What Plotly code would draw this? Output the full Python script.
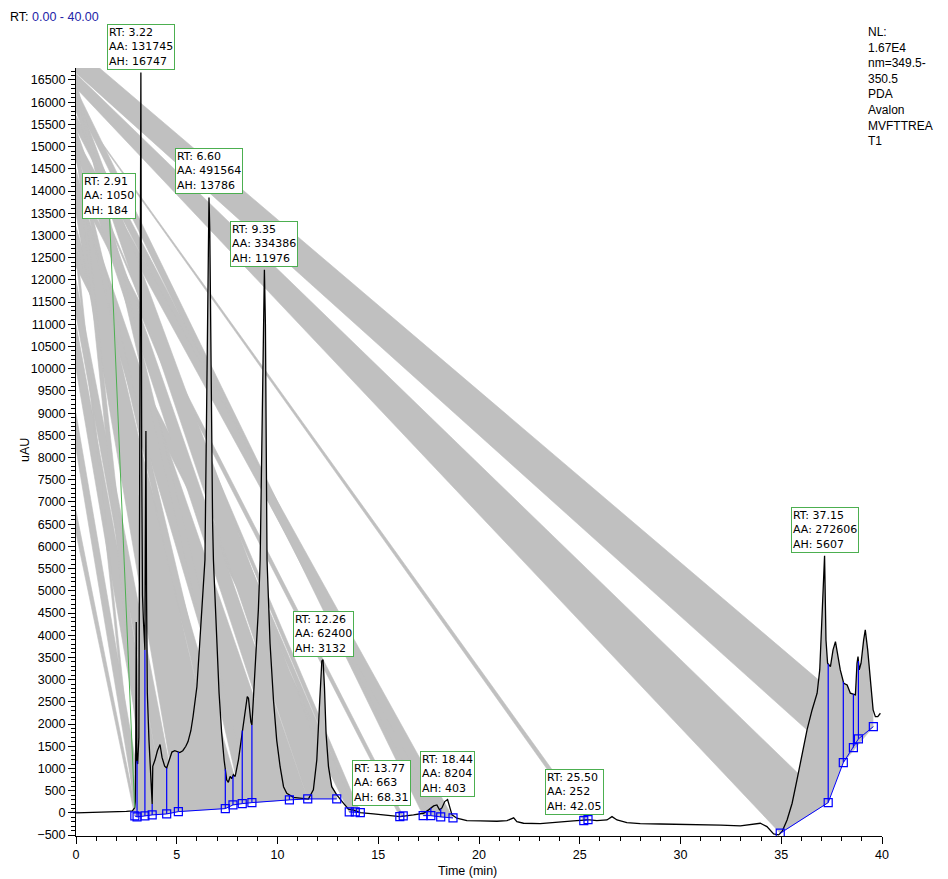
import numpy as np
import plotly.graph_objects as go

# ---------------- data ----------------
rt = [0.0, 0.5, 1.0, 1.5, 2.0, 2.5, 2.8, 2.88, 2.91, 2.94, 2.96, 2.99, 3.02, 3.06, 3.12, 3.17, 3.22, 3.26,
      3.30, 3.35, 3.40, 3.42, 3.44, 3.47, 3.50, 3.54, 3.62, 3.70, 3.75, 3.78, 3.81, 3.92, 4.04, 4.17, 4.27, 4.40,
      4.50, 4.62, 4.76, 4.90, 5.05, 5.15, 5.30, 5.45, 5.56, 5.70, 5.81, 6.00, 6.14, 6.30, 6.40, 6.46, 6.52,
      6.56, 6.60, 6.64, 6.68, 6.73, 6.78, 6.82, 6.98, 7.10, 7.23, 7.35, 7.48, 7.56, 7.65, 7.73, 7.81, 7.90,
      8.06, 8.23, 8.39, 8.50, 8.56, 8.62, 8.68, 8.73, 8.80, 8.94, 9.05, 9.14, 9.22, 9.28, 9.35, 9.40, 9.44,
      9.48, 9.63, 9.80, 9.96, 10.13, 10.30, 10.46, 10.79, 11.20, 11.53, 11.78, 11.95, 12.08, 12.20, 12.26,
      12.33, 12.41, 12.53, 12.69, 12.94, 13.27, 13.52, 13.77, 14.10, 14.76, 15.43, 16.09, 16.75, 17.25,
      17.50, 17.75, 17.91, 18.04, 18.16, 18.30, 18.44, 18.54, 18.66, 18.90, 19.40, 20.06, 20.89, 21.39,
      21.58, 21.72, 21.88, 22.21, 23.04, 23.87, 24.69, 25.36, 25.50, 25.85, 26.35, 26.60, 26.85, 27.34,
      28.0, 29.0, 30.0, 31.0, 32.0, 32.97, 33.96, 34.29, 34.62, 34.87, 35.04, 35.29, 35.54, 35.78, 36.03,
      36.28, 36.53, 36.78, 36.91, 36.98, 37.04, 37.15, 37.22, 37.30, 37.44, 37.57, 37.69, 37.80, 37.93,
      38.10, 38.27, 38.43, 38.68, 38.76, 38.81, 38.87, 38.96, 39.09, 39.17, 39.29, 39.42, 39.56, 39.67,
      39.79, 39.92]
signal = [0, 5, 10, 12, 22, 35, 45, 80, 116, 260, 900, 4300, 1200, 1100, 1700, 9000, 16668, 8000,
          4900, 4300, 3750, 3670, 6000, 8600, 5000, 2700, 1650, 1000, 380, 200, 1050, 1190, 1400, 1540, 1250, 1050,
          1010, 1200, 1370, 1400, 1380, 1357, 1400, 1500, 1605, 1850, 2170, 2840, 3820, 4950, 5700, 8200, 11500,
          12700, 13854, 13100, 10900, 8200, 6500, 5700, 3820, 2700, 1800, 1190, 740, 690, 820, 770, 860, 820,
          1190, 1790, 2320, 2620, 2580, 2300, 2050, 1980, 2540, 3440, 4570, 5700, 8500, 10900, 12228, 11000, 8000,
          5700, 3820, 2540, 1640, 1040, 590, 440, 350, 330, 310, 520, 1190, 2390, 3420, 3447,
          2840, 1790, 1040, 590, 405, 220, 85, 60, 7, -23, -45, -83, -45, -8,
          68, 158, 180, 70, 112, 255, 300, 143, -45, -120, -173, -180, -188, -173,
          -135, -110, -195, -233, -240, -218, -180, -158, -155, -173, -158, -83, -158, -218,
          -240, -250, -255, -262, -275, -293, -233, -308, -473, -495, -420, -158, 218, 743, 1344,
          1868, 2318, 2694, 3219, 3969, 4869, 5787, 3894, 3370, 3294, 3669, 3856, 3595, 3219,
          2919, 2881, 2694, 2656, 3370, 3518, 3219, 3370, 3894, 4119, 3669, 2994, 2318, 2168,
          2168, 2244]

# integration baseline points (blue squares), grouped
base_rt = [2.92, 3.03, 3.42, 3.78, 4.50, 5.08, 7.41, 7.79, 8.25, 8.73, 10.59, 11.50, 12.94,
           13.56, 13.86, 14.11,
           16.07, 16.24,
           17.23, 17.61, 18.10, 18.71,
           25.20, 25.41,
           34.95, 37.33, 38.08, 38.58, 38.83, 39.57]
base_val = [-68, -90, -68, -45, -23, 29, 97, 180, 209, 232, 293, 315, 315,
            23, 23, 7,
            -83, -68,
            -61, -61, -90, -113,
            -173, -151,
            -457, 232, 1132, 1470, 1666, 1943]
base_group = [1] * 13 + [2] * 3 + [3] * 2 + [4] * 4 + [5] * 2 + [6] * 6

# labelled peaks
peak_rt = [2.91, 3.22, 6.60, 9.35, 12.26, 13.77, 18.44, 25.50, 37.15]
peak_area = [1050, 131745, 491564, 334386, 62400, 663, 8204, 252, 272606]
peak_height = [184, 16747, 13786, 11976, 3132, 68.31, 403, 42.05, 5607]

# grey fill artefacts: apex (high, low) on the left axis -> pair of baseline points (index i, j)
band_apex_hi = [17220, 16640, 15900, 16300, 15700, 15200, 14300, 12700, 15050, 14750,
                16200, 15400, 14200, 16500, 13200, 15000, 14500, 12000, 11000, 15500, 9000, 12900, 6800]
band_apex_lo = [16660, 16320, 15870, 16000, 15400, 14900, 14100, 12300, 15000, 14700,
                15800, 14900, 13600, 16300, 12800, 14700, 13500, 11200, 10000, 15000, 8200, 12500, 6300]
band_i = [26, 24, 22, 18, 19, 20, 16, 13, 14, 13, 11, 10, 9, 8, 7, 6, 5, 4, 3, 2, 1, 0, 0]
band_j = [29, 25, 23, 19, 20, 21, 17, 15, 15, 14, 12, 11, 10, 9, 8, 7, 6, 5, 4, 3, 2, 1, 1]

# ---------------- figure ----------------
W, H = 948, 879
ML, MR, MT, MB = 76, 66, 68, 43
PW, PH = W - ML - MR, H - MT - MB
GREY = "#c0c0c0"
BLUE = "#0000ff"
GREEN = "#4caf50"
FONT = "Liberation Sans, Arial, sans-serif"

t = np.array(rt, dtype=float)
s = np.array(signal, dtype=float)
bt = np.array(base_rt, dtype=float)
bv = np.array(base_val, dtype=float)
bg = np.array(base_group)

fig = go.Figure()

# artefact bands
for hi, lo, i, j in zip(band_apex_hi, band_apex_lo, band_i, band_j):
    fig.add_trace(go.Scatter(
        x=[0, bt[j], bt[i], 0], y=[hi, bv[j], bv[i], lo],
        fill="toself", fillcolor=GREY, mode="lines", line=dict(width=0.6, color=GREY),
        hoverinfo="skip", showlegend=False))

# filled area under the curve for peak groups 1 and 6
for g in (1, 6):
    gt = bt[bg == g]
    gv = bv[bg == g]
    inside = (t > gt[0]) & (t < gt[-1])
    xs = np.concatenate([[gt[0]], t[inside], [gt[-1]], gt[::-1]])
    ys = np.concatenate([[np.interp(gt[0], t, s)], s[inside], [np.interp(gt[-1], t, s)], gv[::-1]])
    fig.add_trace(go.Scatter(x=xs, y=ys, fill="toself", fillcolor=GREY, mode="lines",
                             line=dict(width=0, color=GREY), hoverinfo="skip", showlegend=False))

# chromatogram
fig.add_trace(go.Scatter(x=t, y=s, mode="lines", line=dict(color="black", width=1.3),
                         hoverinfo="skip", showlegend=False))

# drop lines at interior baseline points
dx, dy = [], []
for g in np.unique(bg):
    gt = bt[bg == g]
    gv = bv[bg == g]
    for k in range(1, len(gt) - 1):
        dx += [gt[k], gt[k], None]
        dy += [gv[k], float(np.interp(gt[k], t, s)), None]
fig.add_trace(go.Scatter(x=dx, y=dy, mode="lines", line=dict(color=BLUE, width=1.2),
                         hoverinfo="skip", showlegend=False))

# baselines with square markers
for g in np.unique(bg):
    fig.add_trace(go.Scatter(x=bt[bg == g], y=bv[bg == g], mode="lines+markers",
                             line=dict(color=BLUE, width=1),
                             marker=dict(symbol="square-open", size=8, color=BLUE, line=dict(width=1.2)),
                             hoverinfo="skip", showlegend=False))

# peak labels
label_xshift = {13.77: 28, 25.50: -15}
for prt, pa, ph in zip(peak_rt, peak_area, peak_height):
    y0 = float(np.interp(prt, bt, bv)) + ph
    txt = f"RT: {prt:.2f}<br>AA: {pa}<br>AH: {ph:g}"
    common = dict(x=prt, y=y0, xref="x", yref="y", text=txt, align="left",
                  font=dict(family="DejaVu Sans, sans-serif", size=11, color="black"),
                  bgcolor="white", bordercolor=GREEN, borderwidth=1, borderpad=1)
    if prt == 2.91:
        fig.add_annotation(**common, showarrow=True, arrowhead=0, arrowwidth=1, arrowcolor=GREEN,
                           ax=-26, ay=-612, standoff=0)
    else:
        fig.add_annotation(**common, showarrow=False, yanchor="bottom", xanchor="center",
                           yshift=3, xshift=label_xshift.get(prt, 0))


def px(xp):
    return (xp - ML) / PW


def py(yp):
    return (H - MB - yp) / PH


fig.add_annotation(x=px(8), y=py(17), xref="paper", yref="paper", xanchor="left", yanchor="middle",
                   text="RT: <span style='color:#2424a8'>0.00 - 40.00</span>", showarrow=False,
                   font=dict(family=FONT, size=12.5, color="black"))
fig.add_annotation(x=px(866), y=py(23), xref="paper", yref="paper", xanchor="left", yanchor="top",
                   text="NL:<br>1.67E4<br>nm=349.5-<br>350.5<br>PDA<br>Avalon<br>MVFTTREA<br>T1",
                   align="left", showarrow=False, font=dict(family=FONT, size=12, color="black"))
fig.add_annotation(x=px(25), y=py(450), xref="paper", yref="paper", xanchor="center", yanchor="middle",
                   text="uAU", textangle=-90,
                   showarrow=False, font=dict(family=FONT, size=12.5, color="black"))
fig.add_annotation(x=px(467), y=py(871), xref="paper", yref="paper", xanchor="center", yanchor="middle",
                   text="Time (min)",
                   showarrow=False, font=dict(family=FONT, size=12.5, color="black"))

axis_common = dict(showline=True, linecolor="black", linewidth=1, ticks="outside", ticklen=7,
                   tickcolor="black", showgrid=False, zeroline=False, tickformat="d",
                   tickfont=dict(family=FONT, size=12.5, color="black"))
fig.update_xaxes(range=[0, 40], dtick=5, tick0=0,
                 minor=dict(ticks="outside", dtick=1, ticklen=4, tickcolor="black"), **axis_common)
fig.update_yaxes(range=[-520, 16770], dtick=500, tick0=0,
                 minor=dict(ticks="outside", dtick=100, ticklen=4, tickcolor="black"), **axis_common)

fig.update_layout(width=W, height=H, margin=dict(l=ML, r=MR, t=MT, b=MB, autoexpand=False),
                  paper_bgcolor="white", plot_bgcolor="white", showlegend=False)

fig.write_html("out.html")
